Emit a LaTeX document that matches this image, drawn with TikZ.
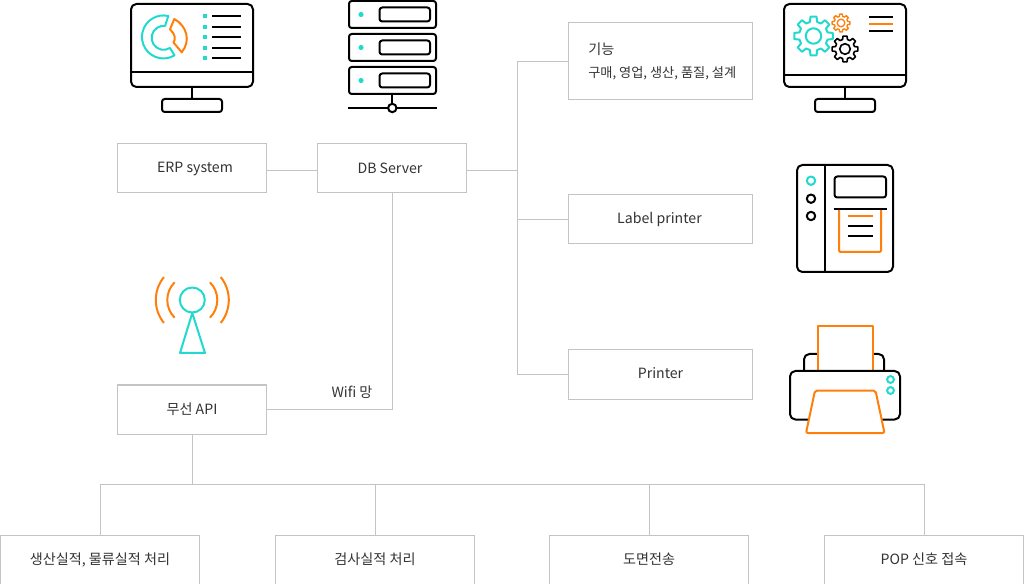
\documentclass[tikz,border=0pt]{standalone}
\usepackage{fontspec}
\setmainfont{Noto Sans CJK KR}
\definecolor{tealc}{HTML}{22D9CF}
\definecolor{orangec}{HTML}{FF7F0A}
\definecolor{linec}{HTML}{C4C4C4}
\definecolor{txt}{HTML}{333333}
\newcommand{\nudge}[3]{\kern#1\raisebox{#2}{#3}\kern-#1}
\newcommand{\gearpath}[7]{% cx cy outer root teeth style ring
  \draw[#6] (#1,#2) circle (#7);
  \pgfmathsetmacro{\st}{360/#5}
  \draw[#6,line join=round] ({#1+#3*cos(-0.2*\st)},{#2+#3*sin(-0.2*\st)})
    \foreach \k in {1,...,#5} {
      -- ({#1+#3*cos((\k-1)*\st+0.2*\st)},{#2+#3*sin((\k-1)*\st+0.2*\st)})
      -- ({#1+#4*cos((\k-1)*\st+0.32*\st)},{#2+#4*sin((\k-1)*\st+0.32*\st)})
      -- ({#1+#4*cos(\k*\st-0.32*\st)},{#2+#4*sin(\k*\st-0.32*\st)})
      -- ({#1+#3*cos(\k*\st-0.2*\st)},{#2+#3*sin(\k*\st-0.2*\st)})
    } -- cycle;
}
\tikzset{
  box/.style={draw=linec,line width=.75pt,fill=white,inner sep=0pt,text=txt,font=\fontsize{10.6pt}{12pt}\selectfont},
  widebox/.style={box,minimum width=138pt,minimum height=36.75pt},
  midbox/.style={box,minimum width=111.75pt,minimum height=36.75pt},
  bigbox/.style={box,minimum width=149.25pt,minimum height=36.75pt},
  wire/.style={draw=linec,line width=.75pt},
  ik/.style={draw=black,line width=1.5pt,rounded corners=2pt,line join=round},
  ikt/.style={draw=tealc,line width=1.5pt,line join=round},
  iko/.style={draw=orangec,line width=1.5pt,line join=round},
}
\begin{document}
\begin{tikzpicture}[x=.75pt,y=.75pt]
\useasboundingbox (0,0) rectangle (1024,-584);
% boxes
\node[midbox] (erp) at (192,-168.5) {\nudge{2.25pt}{.75pt}{ERP system}};
\node[midbox] (db) at (392,-168.5) {\nudge{-1.5pt}{.75pt}{DB Server}};
\node[box,minimum width=138pt,minimum height=57.75pt] (func) at (660.5,-61.5) {};
\node[text=txt,font=\fontsize{10.6pt}{12pt}\selectfont,anchor=west,inner sep=0pt] (funca) at (588,-49.5) {기능};
\node[text=txt,font=\fontsize{9.9pt}{12pt}\selectfont,anchor=west,inner sep=0pt] (funcb) at (588,-73.5) {구매, 영업, 생산, 품질, 설계};
\node[widebox] (label) at (660.5,-219.5) {\nudge{-.75pt}{.75pt}{Label printer}};
\node[widebox] (printer) at (660.5,-374.5) {\nudge{0pt}{1.5pt}{Printer}};
\node[midbox] (api) at (192,-409.5) {무선 API};
\node[bigbox] (b1) at (100,-559.5) {생산실적, 물류실적 처리};
\node[bigbox] (b2) at (375,-559.5) {검사실적 처리};
\node[bigbox] (b3) at (649,-559.5) {도면전송};
\node[bigbox] (b4) at (924,-559.5) {POP 신호 접속};
\node[text=txt,font=\fontsize{10.6pt}{12pt}\selectfont,inner sep=0pt] (wifi) at (352,-392.5) {Wifi 망};
% connectors
\coordinate (j1) at (517.5,-170.5);
\coordinate (j2) at (192,-484.5);
\draw[wire] ([yshift=-1.5pt]erp.east) -- ([yshift=-1.5pt]db.west);
\draw[wire] ([yshift=-1.5pt]db.east) -- (j1);
\draw[wire] (func.west) -| (j1);
\draw[wire] (label.west) -| (j1);
\draw[wire] (printer.west) -| (j1);
\draw[wire] (db.south) |- (api.east);
\draw[wire] (api.south) -- (j2);
\draw[wire] (b1.north) |- (j2);
\draw[wire] (b2.north) |- (j2);
\draw[wire] (b3.north) |- (j2);
\draw[wire] (b4.north) |- (j2);
% ERP monitor
\draw[ik,rounded corners=4pt] (131,-4) rectangle (253,-87);
\draw[ik] (131,-72) -- (253,-72);
\draw[ik] (192,-87) -- (192,-99);
\draw[ik] (162,-99) rectangle (222,-112);
\draw[ikt] (168.3,-16) arc (77:301:21.5) -- (170,-48) arc (-58:-277:12) -- cycle;
\draw[iko] (174.3,-19) .. controls (187,-26) and (191,-41) .. (181.7,-52.3) -- (173.5,-42.5) .. controls (176,-39) and (175,-34) .. (170,-29.3) -- cycle;
\foreach \y in {16,27,37,48,58} {
  \fill[tealc] (203,-\y-2) rectangle (207,-\y+2);
  \draw[black,line width=1.5pt] (212,-\y) -- (241,-\y);
}
% server
\foreach \y in {1,34,67} {
  \draw[ik] (349,-\y) rectangle (436,-\y-27);
  \draw[ik] (379.5,-\y-6.5) rectangle (430,-\y-20.5);
  \fill[tealc] (361,-\y-13.5) circle (2.6);
}
\draw[ik] (392.3,-94) -- (392.3,-104);
\draw[black,line width=1.5pt] (348,-108) -- (437,-108);
\draw[black,line width=1.5pt,fill=white] (392.3,-108) circle (4.2);
% settings monitor
\draw[ik,rounded corners=4pt] (784,-4) rectangle (906,-87);
\draw[ik] (784,-75) -- (906,-75);
\draw[ik] (845,-87) -- (845,-99);
\draw[ik] (815,-99) rectangle (875,-112);
\gearpath{813.5}{-36}{19.5}{14.5}{8}{ikt}{7.7}
\gearpath{841}{-23}{9}{6.8}{8}{iko,line width=1pt}{3.8}
\gearpath{845}{-49}{13}{9.8}{8}{draw=black,line width=1.2pt}{5.3}
\draw[black,line width=1.5pt] (869,-16.7) -- (893,-16.7);
\draw[orangec,line width=1.5pt] (869,-23.7) -- (893,-23.7);
\draw[black,line width=1.5pt] (869,-30.7) -- (893,-30.7);
% label printer
\draw[ik,rounded corners=4pt] (797,-165) rectangle (893,-272);
\draw[ik] (825.3,-165) -- (825.3,-272);
\draw[ikt] (811,-180.7) circle (4.2);
\draw[ik] (811,-198.7) circle (4.2);
\draw[ik] (811,-216) circle (4.2);
\draw[ik] (834.5,-176.5) rectangle (886,-197.5);
\draw[iko,rounded corners=1pt] (839,-209) -- (839,-252) -- (881,-252) -- (881,-209);
\draw[black,line width=1.5pt] (833.5,-209) -- (887,-209);
\draw[orangec,line width=1.5pt] (847.5,-216) -- (873,-216);
\draw[black,line width=1.5pt] (847.5,-226) -- (873,-226);
\draw[black,line width=1.5pt] (847.5,-236) -- (873,-236);
% printer
\draw[ik,rounded corners=4pt] (804,-370) -- (804,-354) -- (884,-354) -- (884,-370);
\draw[iko,fill=white] (817.5,-370) -- (817.5,-326) -- (872.5,-326) -- (872.5,-370);
\draw[ik,rounded corners=4pt] (790,-371) rectangle (900,-419.5);
\draw[ikt] (890.5,-379.5) circle (3.4);
\draw[ikt] (890.5,-390.5) circle (3.4);
\draw[iko,fill=white,rounded corners=1.5pt] (815,-390.5) -- (875.5,-390.5) -- (884.5,-433) -- (806,-433) -- cycle;
% antenna
\draw[ikt] (192.3,-300) circle (12.5);
\draw[ikt] (192.3,-313) -- (205,-353) -- (180,-353) -- cycle;
\draw[iko] (192.3,-300) ++(135:25) arc (135:225:25);
\draw[iko] (192.3,-300) ++(-45:25) arc (-45:45:25);
\draw[iko] (192.3,-300) ++(141:36.5) arc (141:219:36.5);
\draw[iko] (192.3,-300) ++(-39:36.5) arc (-39:39:36.5);
\end{tikzpicture}
\end{document}
